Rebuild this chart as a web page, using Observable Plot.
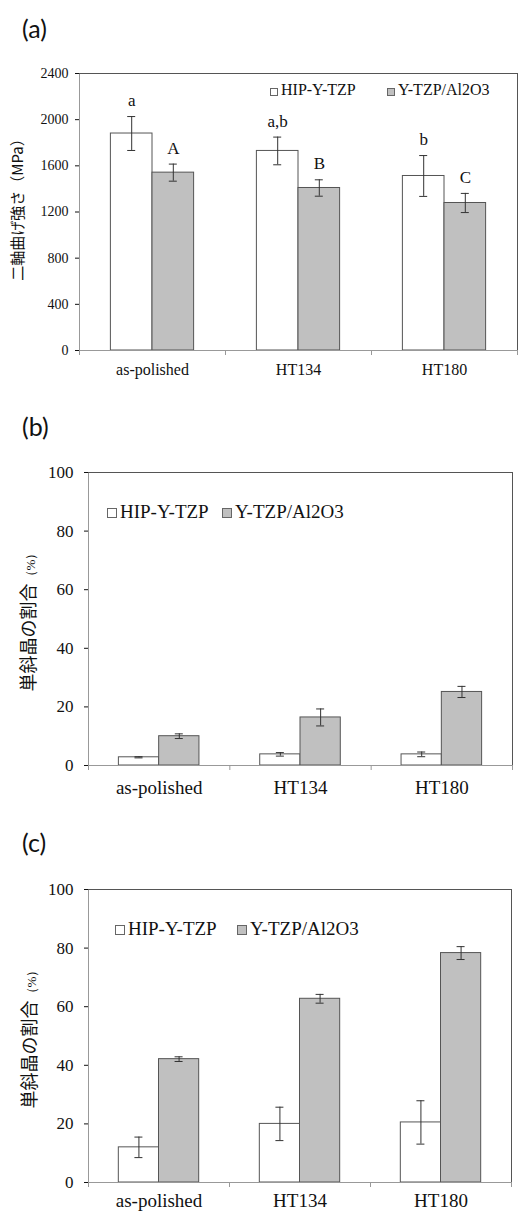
<!DOCTYPE html>
<html><head><meta charset="utf-8">
<script src="https://cdn.jsdelivr.net/npm/d3@7"></script>
<script src="https://cdn.jsdelivr.net/npm/@observablehq/plot@0.6"></script>
<style>
body{margin:0;background:#fff;}
#root{position:relative;width:518px;height:1211px;overflow:hidden;background:#fff;}
.panel{position:absolute;left:0;width:518px;}
.plabel{position:absolute;font-family:Lato,"Open Sans",sans-serif;font-size:25px;line-height:1;color:#111;}
.leg{position:absolute;font-family:"Liberation Serif",serif;color:#111;white-space:nowrap;line-height:1;}
.box{position:absolute;border:1px solid #666;box-sizing:border-box;}
</style>
</head><body><div id="root"></div>
<script>
// ---- data ----
const categories = ["as-polished", "HT134", "HT180"];
const series = ["HIP-Y-TZP", "Y-TZP/Al2O3"];
const panelLabels = ["(a)", "(b)", "(c)"];

// (a) biaxial flexural strength (MPa)
const aHip = [1880, 1729, 1512];
const aHipErr = [147, 120, 177];
const aAl = [1541, 1408, 1278];
const aAlErr = [74, 71, 83];
const aHipLetters = ["a", "a,b", "b"];
const aAlLetters = ["A", "B", "C"];
const aTicks = [0, 400, 800, 1200, 1600, 2000, 2400];
const aTitle = ["二軸曲げ強さ", "（MPa）"];

// (b) monoclinic fraction (%)
const bHip = [2.8, 3.8, 3.8];
const bHipErr = [0.2, 0.6, 0.8];
const bAl = [10.0, 16.4, 25.1];
const bAlErr = [0.8, 2.9, 1.9];

// (c) monoclinic fraction (%)
const cHip = [12.0, 20.0, 20.5];
const cHipErr = [3.5, 5.7, 7.4];
const cAl = [42.1, 62.7, 78.3];
const cAlErr = [0.8, 1.5, 2.2];

const pctTicks = [0, 20, 40, 60, 80, 100];
const pctTitle = ["単斜晶の割合", "（%）"];

// ---- drawing ----
const BW = 0.285;
const SERIF = '"Liberation Serif", "Times New Roman", serif';
const CJK = '"Noto Sans CJK JP", sans-serif';
const root = document.getElementById("root");

function buildRows(vals, errs, labels) {
  const rows = [];
  categories.forEach((c, i) => {
    series.forEach((s, k) => {
      const x1 = i + 0.5 + (k === 0 ? -BW : 0);
      rows.push({cat: c, i, s, k, x1, x2: x1 + BW, xc: x1 + BW / 2,
        v: vals[k][i], e: errs[k][i], lab: labels ? labels[k][i] : null});
    });
  });
  return rows;
}

function panel(o) {
  const rows = buildRows(o.vals, o.errs, o.labels);
  const titleText = o.title.join("");
  const marks = [
    Plot.rect(rows, {x1: "x1", x2: "x2", y1: 0, y2: "v", fill: "s", stroke: "#555", strokeWidth: 1}),
    Plot.ruleX(rows, {x: "xc", y1: d => d.v - d.e, y2: d => d.v + d.e, stroke: "#333", strokeWidth: 1}),
    Plot.ruleY(rows, {y: d => d.v + d.e, x1: "xc", x2: "xc", insetLeft: -4, insetRight: -4, stroke: "#333"}),
    Plot.ruleY(rows, {y: d => d.v - d.e, x1: "xc", x2: "xc", insetLeft: -4, insetRight: -4, stroke: "#333"}),
    Plot.ruleX([0], {stroke: "#999"}),
    Plot.ruleX([3], {stroke: "#555"}),
    Plot.ruleY([o.max], {stroke: "#555"}),
    Plot.ruleY([0], {stroke: "#999"}),
    Plot.ruleX([0, 1, 2, 3], {y1: 0, y2: 0, insetTop: 5, stroke: "#999"}),
    Plot.text([titleText], {frameAnchor: "left", rotate: -90, textAnchor: "middle", dx: o.tdx, dy: o.tdy,
      fontSize: o.tfs, fill: "#111"})
  ];
  if (o.labels) {
    marks.push(Plot.text(rows, {x: "xc", y: d => d.v + d.e, text: "lab", dy: -16, fontSize: 17, fill: "#111"}));
  }
  const svg = Plot.plot({
    width: 518, height: o.height,
    marginTop: o.mt, marginBottom: o.mb, marginLeft: o.ml, marginRight: o.mr,
    style: {fontSize: o.yfs + "px", color: "#111", background: "white", overflow: "visible"},
    x: {domain: [0, 3], ticks: [0.5, 1.5, 2.5], tickFormat: t => categories[Math.floor(t)], tickSize: 0, tickPadding: o.xpad, label: null},
    y: {domain: [0, o.max], ticks: o.ticks, tickFormat: d => String(d), tickSize: 4, tickPadding: o.ypad, label: null},
    color: {domain: series, range: ["#ffffff", "#c0c0c0"]},
    marks
  });
  svg.querySelectorAll('[aria-label^="x-axis"]').forEach(g => g.setAttribute("font-size", o.xfs));
  svg.querySelectorAll("text").forEach(t => {
    if (t.textContent === titleText) {
      t.style.fontFamily = CJK;
      t.textContent = "";
      const ns = "http://www.w3.org/2000/svg";
      const s1 = document.createElementNS(ns, "tspan");
      s1.textContent = o.title[0];
      const s2 = document.createElementNS(ns, "tspan");
      s2.textContent = o.title[1];
      s2.style.fontSize = o.t2fs + "px";
      s2.style.fontFamily = o.t2font;
      t.appendChild(s1); t.appendChild(s2);
    } else {
      t.style.fontFamily = SERIF;
    }
  });
  const wrap = document.createElement("div");
  wrap.className = "panel";
  wrap.style.top = o.top + "px";
  wrap.appendChild(svg);
  root.appendChild(wrap);
}

function legend(o) {
  const items = [[o.b1, o.t1, "#ffffff"], [o.b2, o.t2, "#c0c0c0"]];
  items.forEach(([bx, tx, col], k) => {
    const b = document.createElement("div");
    b.className = "box";
    b.style.left = bx + "px";
    b.style.top = (o.y - o.bs / 2) + "px";
    b.style.width = o.bs + "px";
    b.style.height = o.bs + "px";
    b.style.background = col;
    root.appendChild(b);
    const t = document.createElement("div");
    t.className = "leg";
    t.style.left = tx + "px";
    t.style.top = (o.y - o.fs * 0.6) + "px";
    t.style.fontSize = o.fs + "px";
    t.textContent = series[k];
    root.appendChild(t);
  });
}

function plabel(text, x, y) {
  const d = document.createElement("div");
  d.className = "plabel";
  d.style.left = x + "px";
  d.style.top = y + "px";
  d.textContent = text;
  root.appendChild(d);
}

panel({top: 0, height: 400, mt: 73, mb: 50, ml: 79, mr: 1, max: 2400, ticks: aTicks,
  vals: [aHip, aAl], errs: [aHipErr, aAlErr], labels: [aHipLetters, aAlLetters],
  title: aTitle, t2fs: 15, t2font: CJK, tdx: -61, tdy: -6, tfs: 15, yfs: 14, xfs: 16, xpad: 13, ypad: 7});
panel({top: 400, height: 410, mt: 72, mb: 45, ml: 88, mr: 6, max: 100, ticks: pctTicks,
  vals: [bHip, bAl], errs: [bHipErr, bAlErr], labels: null,
  title: pctTitle, t2fs: 13, t2font: SERIF, tdx: -59, tdy: 0, tfs: 18, yfs: 17, xfs: 19, xpad: 15, ypad: 11});
panel({top: 810, height: 401, mt: 79, mb: 29, ml: 88, mr: 7, max: 100, ticks: pctTicks,
  vals: [cHip, cAl], errs: [cHipErr, cAlErr], labels: null,
  title: pctTitle, t2fs: 13, t2font: SERIF, tdx: -58, tdy: 0, tfs: 18, yfs: 17, xfs: 19, xpad: 11, ypad: 11});

legend({y: 92, fs: 16, bs: 8, b1: 270, t1: 281, b2: 387, t2: 398});
legend({y: 513, fs: 19, bs: 10, b1: 107, t1: 120, b2: 222, t2: 235});
legend({y: 930, fs: 19, bs: 10, b1: 115, t1: 128, b2: 237, t2: 250});

plabel(panelLabels[0], 22, 16);
plabel(panelLabels[1], 22, 414);
plabel(panelLabels[2], 22, 830);
</script>
</body></html>
